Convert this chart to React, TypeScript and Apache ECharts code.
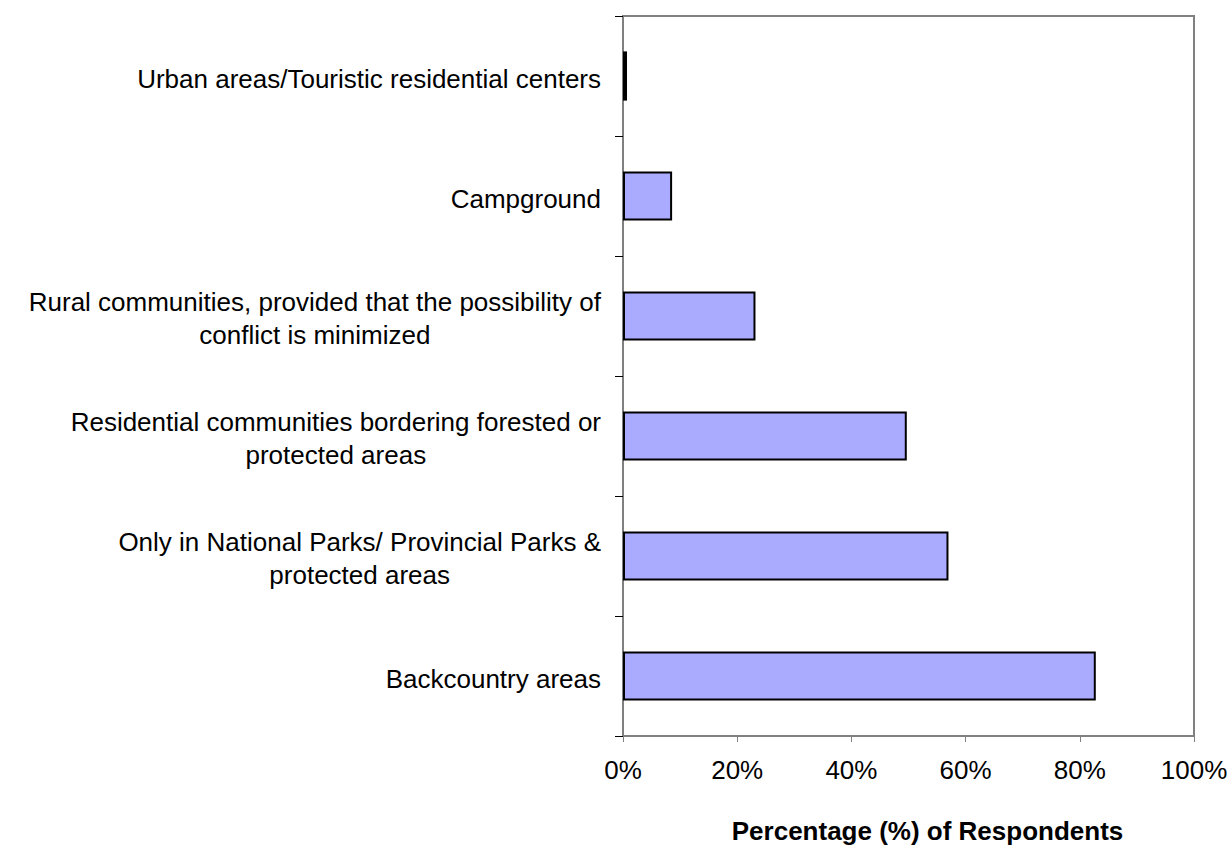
import React, { useEffect, useRef } from "react";
import * as echarts from "echarts";

const categories = [
  "Backcountry areas",
  "Only in National Parks/ Provincial Parks &\nprotected areas",
  "Residential communities bordering forested or\nprotected areas",
  "Rural communities, provided that the possibility of\nconflict is minimized",
  "Campground",
  "Urban areas/Touristic residential centers",
];
const values = [82.8, 57.0, 49.7, 23.2, 8.6, 0.7];
const xTicks = [0, 20, 40, 60, 80, 100];
const xTitle = "Percentage (%) of Respondents";

export default function App() {
  const ref = useRef<HTMLDivElement>(null);
  useEffect(() => {
    document.body.style.margin = "0";
    const chart = echarts.init(ref.current!, null, { renderer: "svg" });
    const font = "'Liberation Sans', Arial, sans-serif";
    chart.setOption({
      animation: false,
      backgroundColor: "#ffffff",
      grid: {
        left: 623,
        right: 38,
        top: 16,
        bottom: 112,
        containLabel: false,
        outerBoundsMode: "none",
        show: true,
        borderColor: "#808080",
        borderWidth: 2,
        backgroundColor: "transparent",
      },
      xAxis: {
        type: "value",
        min: 0,
        max: 100,
        interval: 20,
        name: xTitle,
        nameLocation: "middle",
        nameGap: 82,
        nameTextStyle: {
          fontFamily: font,
          fontSize: 26,
          fontWeight: "bold",
          color: "#000",
          padding: [0, 0, 0, 38],
        },
        axisLine: { show: true, lineStyle: { color: "#808080", width: 2 } },
        axisTick: { show: true, length: 6, lineStyle: { color: "#808080", width: 1 } },
        splitLine: { show: false },
        axisLabel: {
          margin: 21,
          fontFamily: font,
          fontSize: 26,
          color: "#000",
          formatter: (v: number) => (xTicks.includes(v) ? v + "%" : ""),
        },
      },
      yAxis: {
        type: "category",
        data: categories,
        axisLine: { show: true, lineStyle: { color: "#808080", width: 2 } },
        axisTick: { show: true, length: 8, lineStyle: { color: "#000", width: 1 } },
        axisLabel: {
          margin: 22,
          fontFamily: font,
          fontSize: 26,
          color: "#000",
          align: "right",
          lineHeight: 33,
          padding: [5, 0, 0, 0],
          formatter: (v: string) =>
            v
              .split("\n")
              .map((l) => "{c|" + l + "}")
              .join("\n"),
          rich: {
            c: { align: "center", fontFamily: font, fontSize: 26, color: "#000", lineHeight: 33 },
          },
        },
      },
      series: [
        {
          type: "bar",
          data: values,
          barWidth: "41%",
          itemStyle: { color: "#aaaaff", borderColor: "#000", borderWidth: 2 },
          emphasis: { disabled: true },
        },
      ],
    });
    return () => chart.dispose();
  }, []);
  return <div ref={ref} style={{ width: 1232, height: 848 }} />;
}
